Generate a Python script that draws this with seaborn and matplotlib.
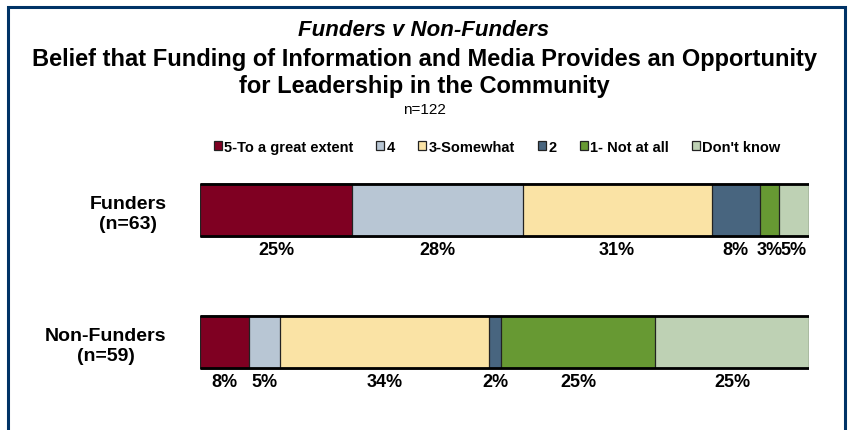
import matplotlib
matplotlib.use("Agg")
import matplotlib.pyplot as plt
from matplotlib.patches import Rectangle
import numpy as np
import pandas as pd
import seaborn as sns

# Survey responses (percent of respondents in each group)
groups = ["Funders\n(n=63)", "Non-Funders\n(n=59)"]
categories = ["5-To a great extent", "4", "3-Somewhat", "2", "1- Not at all", "Don't know"]
funders = [25, 28, 31, 8, 3, 5]
non_funders = [8, 5, 34, 2, 25, 25]
colors = ["#7F0022", "#B8C6D4", "#FAE3A5", "#48657F", "#679933", "#BED1B4"]

sns.set_theme(style="white")
plt.rcParams["font.family"] = ["Liberation Sans", "DejaVu Sans"]
plt.rcParams["text.color"] = "black"
plt.rcParams["ytick.color"] = "black"
plt.rcParams["ytick.labelcolor"] = "black"

fig = plt.figure(figsize=(8.48, 4.31), dpi=100)
ax = fig.add_axes([200 / 848, 1 - 409 / 431, 609 / 848, 264 / 431])

values = np.array([funders, non_funders], dtype=float)
# 100% stacked layout: each row fills the full width
shares = values / values.sum(axis=1, keepdims=True) * 100
cum = np.cumsum(shares, axis=1)

df = pd.DataFrame(cum, columns=categories)
df["group"] = groups

# Draw cumulative bars from the longest to the shortest so they stack
for j in range(len(categories) - 1, -1, -1):
    sns.barplot(data=df, x=categories[j], y="group", color=colors[j], saturation=1,
                width=0.394, edgecolor="#222222", linewidth=0.9, label=categories[j], ax=ax)

# Heavy top and bottom rules on each bar
for i in range(len(groups)):
    for yy in (i - 0.197, i + 0.197):
        ax.plot([0, 100], [yy, yy], color="black", lw=2.0, solid_capstyle="butt", zorder=5)

# Value labels under each segment
for i in range(len(groups)):
    left = 0.0
    for j in range(len(categories)):
        w = shares[i, j]
        ax.text(left + w / 2, i + 0.30, f"{values[i, j]:.0f}%", ha="center", va="center",
                fontsize=13, fontweight="bold", color="black")
        left += w

ax.set_xlim(0, 100)
ax.set_ylim(1.5, -0.5)
ax.set_xlabel("")
ax.set_ylabel("")
ax.set_xticks([])
ax.tick_params(axis="y", length=0, pad=24)
for lab in ax.get_yticklabels():
    lab.set_fontsize(14)
    lab.set_fontweight("bold")
    lab.set_multialignment("center")
    lab.set_color("black")
for s in ax.spines.values():
    s.set_visible(False)

# Legend in category order
handles, labels = ax.get_legend_handles_labels()
order = [labels.index(c) for c in categories]
ax.legend([handles[k] for k in order], [labels[k] for k in order],
          loc="center", bbox_to_anchor=(497 / 848, 1 - 148 / 431),
          bbox_transform=fig.transFigure, ncol=6, frameon=False,
          prop={"size": 10.5, "weight": "bold"}, handlelength=0.55, handleheight=0.55,
          handletextpad=0.15, columnspacing=1.6, borderpad=0, borderaxespad=0)

# Titles
fig.text(0.5, 1 - 30 / 431, "Funders v Non-Funders", ha="center", va="center",
         fontsize=16, fontweight="bold", fontstyle="italic")
fig.text(0.5, 1 - 60 / 431, "Belief that Funding of Information and Media Provides an Opportunity",
         ha="center", va="center", fontsize=17, fontweight="bold")
fig.text(0.5, 1 - 87 / 431, "for Leadership in the Community", ha="center", va="center",
         fontsize=17, fontweight="bold")
fig.text(0.5, 1 - 110 / 431, "n=122", ha="center", va="center", fontsize=11)

# Blue frame around the slide content
fig.patches.append(Rectangle((8 / 848, -0.1), 837 / 848, 1.1 - 8 / 431,
                             transform=fig.transFigure, fill=False,
                             edgecolor="#003366", linewidth=2.2))

fig.savefig("out.png", dpi=100)
